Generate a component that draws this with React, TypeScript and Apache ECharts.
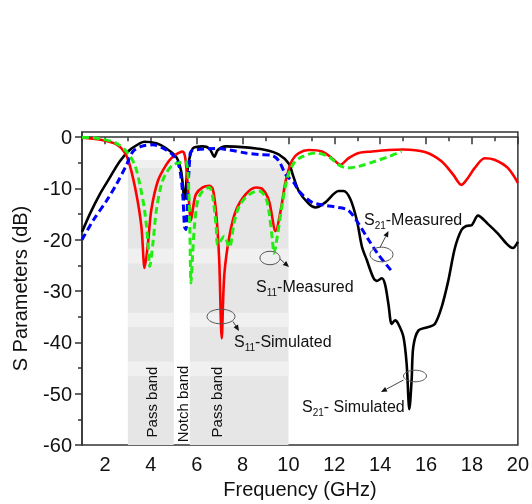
import React, { useEffect, useRef } from "react";
import * as echarts from "echarts";

// ---- Data (frequency in GHz, S parameters in dB) ----
const s21SimFreq = [1.0, 1.35, 1.78, 2.21, 2.65, 3.08, 3.52, 3.73, 4.24, 4.67, 5.1, 5.32, 5.47, 5.61, 5.83, 6.26, 6.55, 6.77, 6.92, 7.27, 8.14, 9.0, 9.59, 10.02, 10.2, 10.45, 10.89, 11.18, 11.61, 12.19, 12.4, 12.7, 12.98, 13.2, 13.41, 13.7, 13.85, 14.07, 14.21, 14.36, 14.5, 14.65, 14.79, 15.01, 15.15, 15.27, 15.37, 15.44, 15.66, 16.09, 16.38, 16.67, 16.96, 17.25, 17.54, 17.75, 17.97, 18.26, 18.69, 19.13, 19.56, 19.78, 20.0];
const s21SimDb = [-18.5, -14.9, -11.1, -7.9, -4.7, -2.5, -1.2, -0.9, -1.2, -2.2, -3.8, -6.6, -12.1, -6.0, -2.2, -1.8, -2.2, -3.8, -2.5, -1.8, -2.0, -2.5, -3.4, -5.2, -7.5, -10.5, -13.0, -13.7, -12.7, -10.5, -10.5, -12.1, -16.2, -21.3, -23.9, -27.4, -28.0, -27.5, -28.7, -32.6, -36.4, -35.7, -36.4, -38.9, -44.1, -53.0, -47.2, -40.9, -37.7, -37.0, -36.4, -33.2, -28.1, -21.7, -18.1, -17.3, -17.2, -15.3, -16.9, -18.8, -21.0, -21.6, -20.4];

const s21MeasFreq = [1.0, 1.49, 2.07, 2.5, 2.94, 3.22, 3.59, 4.09, 4.67, 5.03, 5.25, 5.39, 5.47, 5.53, 5.62, 5.7, 5.75, 5.97, 6.41, 6.85, 7.42, 8.14, 8.72, 9.3, 9.59, 9.88, 10.24, 10.45, 11.03, 11.61, 12.19, 12.62, 13.06, 13.49, 13.92, 14.5];
const s21MeasDb = [-20.0, -16.2, -12.4, -9.2, -5.4, -2.8, -1.8, -1.5, -2.5, -3.8, -6.0, -11.1, -17.5, -18.0, -10.0, -4.0, -2.8, -2.5, -2.3, -2.2, -2.5, -3.1, -3.4, -3.6, -4.7, -7.3, -8.9, -10.5, -12.7, -13.3, -13.7, -14.3, -16.9, -20.0, -22.9, -26.1];

const s11SimFreq = [1.0, 1.8, 2.5, 2.86, 3.08, 3.37, 3.59, 3.73, 3.88, 4.02, 4.31, 4.67, 4.96, 5.25, 5.39, 5.5, 5.62, 5.75, 5.85, 5.97, 6.26, 6.55, 6.7, 6.85, 6.98, 7.09, 7.2, 7.42, 7.71, 8.14, 8.58, 8.86, 9.15, 9.44, 9.66, 9.88, 10.16, 10.45, 10.89, 11.46, 11.9, 12.26, 12.62, 13.06, 13.63, 14.36, 15.0, 15.95, 16.67, 17.18, 17.54, 17.83, 18.12, 18.55, 18.98, 19.56, 20.0];
const s11SimDb = [-0.1, -0.5, -1.4, -3.0, -5.4, -11.1, -17.5, -25.5, -20.5, -14.2, -8.5, -5.4, -3.8, -3.0, -2.8, -4.0, -10.0, -16.2, -13.5, -11.1, -9.8, -9.5, -10.1, -14.9, -23.9, -39.2, -27.0, -19.4, -14.3, -11.1, -9.8, -10.1, -12.4, -18.3, -14.3, -8.5, -4.5, -3.1, -2.5, -2.8, -4.1, -5.4, -4.1, -3.1, -2.8, -2.5, -2.4, -2.9, -4.7, -7.3, -9.3, -7.9, -6.0, -4.1, -4.4, -6.0, -8.9];

const s11MeasFreq = [1.0, 1.78, 2.5, 2.94, 3.3, 3.52, 3.73, 3.88, 3.95, 4.09, 4.24, 4.46, 4.67, 4.96, 5.25, 5.5, 5.62, 5.7, 5.75, 5.82, 5.9, 6.04, 6.26, 6.55, 6.7, 6.85, 6.92, 7.2, 7.42, 7.64, 7.85, 8.14, 8.43, 8.72, 9.0, 9.15, 9.3, 9.37, 9.51, 9.73, 9.95, 10.24, 10.6, 11.18, 11.75, 12.19, 12.55, 13.06, 13.78, 14.36, 14.93];
const s11MeasDb = [0.0, -0.3, -1.2, -2.8, -5.4, -9.2, -14.3, -20.7, -25.2, -20.7, -14.3, -9.2, -7.0, -5.4, -5.0, -4.7, -7.0, -18.0, -28.4, -23.0, -17.5, -12.4, -10.5, -9.8, -11.7, -17.5, -21.0, -19.3, -21.5, -16.5, -13.5, -11.7, -10.8, -10.5, -11.7, -14.5, -20.0, -22.6, -19.4, -13.0, -7.9, -5.0, -3.8, -3.1, -3.8, -5.4, -6.0, -5.7, -4.7, -3.8, -2.8];

// Shaded bands (GHz ranges) and lighter horizontal strips (dB ranges)
const bandRanges = [[3.0, 5.0], [5.7, 10.0]];
const bandTopDb = -4.5;
const bandStrips = [[-4.5, -6.0], [-21.7, -24.6], [-34.2, -37.0], [-43.7, -46.6]];

// Axis ticks
const xMajorTicks = [2, 4, 6, 8, 10, 12, 14, 16, 18, 20];
const xMinorTicks = [1, 3, 5, 7, 9, 11, 13, 15, 17, 19];
const yMajorTicks = [-60, -50, -40, -30, -20, -10, 0];
const yMinorTicks = [-55, -45, -35, -25, -15, -5];

const FONT = "Liberation Sans";

const zip = (f: number[], d: number[]) => f.map((x, i) => [x, d[i]]);

function arrow(x1: number, y1: number, x2: number, y2: number) {
  const dx = x2 - x1, dy = y2 - y1;
  const L = Math.hypot(dx, dy);
  const ux = dx / L, uy = dy / L;
  const h = 6, w = 2.6;
  const bx = x2 - ux * h, by = y2 - uy * h;
  return [
    { type: "line", shape: { x1, y1, x2: bx, y2: by }, style: { stroke: "#444", lineWidth: 1 }, z: 100 },
    {
      type: "polygon",
      shape: { points: [[x2, y2], [bx - uy * w, by + ux * w], [bx + uy * w, by - ux * w]] },
      style: { fill: "#111" },
      z: 100,
    },
  ];
}

function ellipse(cx: number, cy: number, rx: number, ry: number) {
  return { type: "ellipse", shape: { cx, cy, rx, ry }, style: { fill: "none", stroke: "#555", lineWidth: 1 }, z: 100 };
}

function subLabel(x: number, y: number, sub: string, rest: string) {
  return {
    type: "text",
    x,
    y,
    z: 100,
    style: {
      text: `{m|S}{s|${sub}}{m|${rest}}`,
      align: "left",
      verticalAlign: "middle",
      fill: "#111",
      rich: {
        m: { fontSize: 16, fontFamily: FONT, lineHeight: 22, fill: "#111" },
        s: { fontSize: 10, fontFamily: FONT, lineHeight: 10, verticalAlign: "bottom", fill: "#111" },
      },
    },
  };
}

function bandLabel(x: number, y: number, text: string) {
  return {
    type: "text",
    x,
    y,
    rotation: Math.PI / 2,
    z: 100,
    style: { text, fontSize: 15, fontFamily: FONT, fill: "#111", align: "center", verticalAlign: "middle" },
  };
}

export default function App() {
  const ref = useRef<HTMLDivElement>(null);

  useEffect(() => {
    const chart = echarts.init(ref.current!, null, { renderer: "svg" });

    const baseAreas = bandRanges.map(([a, b]) => [
      { xAxis: a, yAxis: bandTopDb },
      { xAxis: b, yAxis: -60 },
    ]);
    const stripAreas: any[] = [];
    bandRanges.forEach(([a, b]) => {
      bandStrips.forEach(([t, u]) => {
        stripAreas.push([{ xAxis: a, yAxis: t }, { xAxis: b, yAxis: u }]);
      });
    });

    const option: any = {
      animation: false,
      textStyle: { fontFamily: FONT },
      grid: {
        left: 82,
        right: 12,
        top: 132,
        bottom: 54,
        show: true,
        borderColor: "#333",
        borderWidth: 1.5,
        backgroundColor: "transparent",
      },
      xAxis: [
        {
          type: "value",
          min: 1,
          max: 20,
          name: "Frequency (GHz)",
          nameLocation: "middle",
          nameGap: 32,
          nameTextStyle: { fontSize: 20, color: "#111", fontFamily: FONT },
          axisLine: { show: true, lineStyle: { color: "#333", width: 1.5 } },
          axisTick: { show: true, inside: false, length: 7, customValues: xMajorTicks, lineStyle: { color: "#333", width: 1.5 } },
          axisLabel: { show: true, customValues: xMajorTicks, fontSize: 20, color: "#111", margin: 9, fontFamily: FONT },
          splitLine: { show: false },
        },
        {
          type: "value",
          min: 1,
          max: 20,
          position: "bottom",
          axisLine: { show: false },
          axisTick: { show: true, inside: false, length: 4, customValues: xMinorTicks, lineStyle: { color: "#333", width: 1.5 } },
          axisLabel: { show: false },
          splitLine: { show: false },
        },
      ],
      yAxis: [
        {
          type: "value",
          min: -60,
          max: 1,
          name: "S Parameters (dB)",
          nameLocation: "middle",
          nameGap: 52,
          nameTextStyle: { fontSize: 20, color: "#111", fontFamily: FONT },
          axisLine: { show: true, lineStyle: { color: "#333", width: 1.5 } },
          axisTick: { show: true, inside: false, length: 7, customValues: yMajorTicks, lineStyle: { color: "#333", width: 1.5 } },
          axisLabel: { show: true, customValues: yMajorTicks, fontSize: 20, color: "#111", margin: 10, fontFamily: FONT },
          splitLine: { show: false },
        },
        {
          type: "value",
          min: -60,
          max: 1,
          position: "left",
          axisLine: { show: false },
          axisTick: { show: true, inside: false, length: 4, customValues: yMinorTicks, lineStyle: { color: "#333", width: 1.5 } },
          axisLabel: { show: false },
          splitLine: { show: false },
        },
      ],
      series: [
        {
          type: "line",
          data: [],
          silent: true,
          markArea: { silent: true, itemStyle: { color: "#e6e6e6" }, label: { show: false }, data: baseAreas },
          z: 1,
        },
        {
          type: "line",
          data: [],
          silent: true,
          markArea: { silent: true, itemStyle: { color: "#f0f0f0" }, label: { show: false }, data: stripAreas },
          z: 1,
        },
        {
          name: "S21-Simulated",
          type: "line",
          data: zip(s21SimFreq, s21SimDb),
          showSymbol: false,
          smooth: 0.3,
          lineStyle: { color: "#000", width: 2.6 },
          z: 3,
        },
        {
          name: "S11-Simulated",
          type: "line",
          data: zip(s11SimFreq, s11SimDb),
          showSymbol: false,
          smooth: 0.3,
          lineStyle: { color: "#ff0000", width: 2.6 },
          z: 4,
        },
        {
          name: "S21-Measured",
          type: "line",
          data: zip(s21MeasFreq, s21MeasDb),
          showSymbol: false,
          smooth: 0.3,
          lineStyle: { color: "#0000ff", width: 3, type: [7, 4] },
          z: 5,
        },
        {
          name: "S11-Measured",
          type: "line",
          data: zip(s11MeasFreq, s11MeasDb),
          showSymbol: false,
          smooth: 0.3,
          lineStyle: { color: "#22ee11", width: 3, type: [7, 4] },
          z: 6,
        },
      ],
      graphic: [
        bandLabel(151, 402, "Pass band"),
        bandLabel(182, 404, "Notch band"),
        bandLabel(216.5, 402, "Pass band"),
        ellipse(270, 258, 10, 6.7),
        ...arrow(280, 259, 289, 267),
        subLabel(256, 286, "11", "-Measured"),
        ellipse(221, 316.5, 14, 7.3),
        ...arrow(233, 321.5, 239, 331),
        subLabel(234, 341, "11", "-Simulated"),
        ellipse(381.5, 254.5, 11.5, 7.3),
        ...arrow(380, 247.5, 388.5, 231),
        subLabel(364, 219, "21", "-Measured"),
        ellipse(415, 376, 11.5, 5.8),
        ...arrow(403.5, 380, 381, 392),
        subLabel(302, 406, "21", "- Simulated"),
      ],
    };

    chart.setOption(option);
    return () => chart.dispose();
  }, []);

  return <div ref={ref} style={{ position: "fixed", left: 0, top: 0, width: 532, height: 504 }} />;
}
